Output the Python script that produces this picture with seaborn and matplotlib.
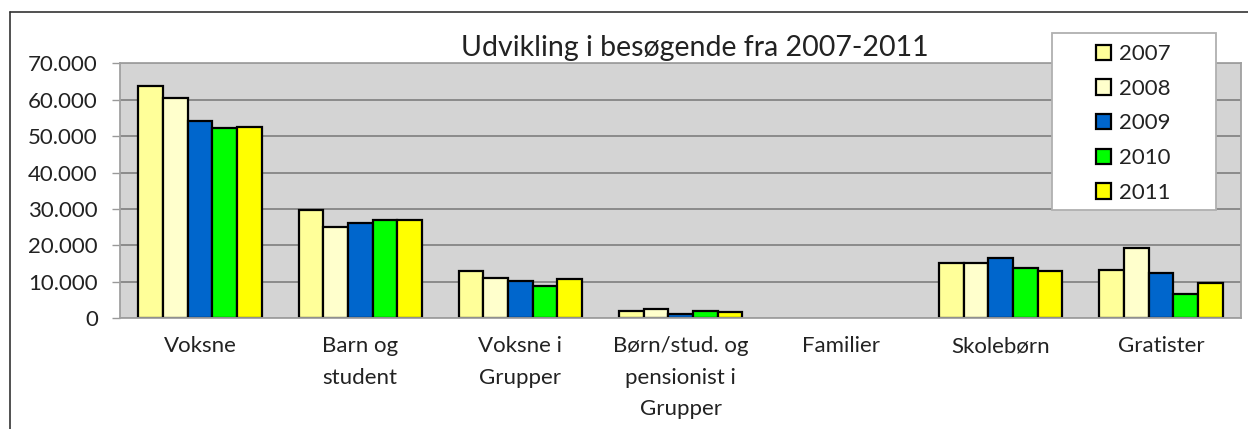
import numpy as np
import pandas as pd
import matplotlib.pyplot as plt
import seaborn as sns
from matplotlib.lines import Line2D
from matplotlib.patches import Rectangle
from matplotlib.ticker import FuncFormatter, FixedLocator

categories = ["Voksne", "Barn og\nstudent", "Voksne i\nGrupper",
              "Børn/stud. og\npensionist i\nGrupper", "Familier",
              "Skolebørn", "Gratister"]
years = ["2007", "2008", "2009", "2010", "2011"]

v2007 = [63700, 29700, 13000, 1800, 0, 15000, 13200]
v2008 = [60400, 24900, 11100, 2500, 0, 15000, 19300]
v2009 = [54300, 26000, 10200, 1200, 0, 16600, 12500]
v2010 = [52200, 27000, 8800, 1800, 0, 13700, 6600]
v2011 = [52500, 27000, 10600, 1700, 0, 13000, 9500]

colors = ["#FFFF99", "#FFFFCC", "#0066CC", "#00FF00", "#FFFF00"]

rows = []
for year, vals in zip(years, [v2007, v2008, v2009, v2010, v2011]):
    for cat, v in zip(categories, vals):
        rows.append({"kategori": cat, "år": year, "besøgende": v})
df = pd.DataFrame(rows)

sns.set_style("white")
plt.rcParams["font.family"] = ["Lato", "DejaVu Sans"]

fig = plt.figure(figsize=(12.48, 4.29), dpi=100)
ax = fig.add_axes([0.0962, 0.2587, 0.8982, 0.5933])
ax.set_facecolor("#D4D4D4")

sns.barplot(
    data=df, x="kategori", y="besøgende", hue="år",
    order=categories, hue_order=years,
    palette=colors, saturation=1, width=0.77,
    edgecolor="black", linewidth=1.6,
    ax=ax
)
# empty bars (Familier) leave no outline
for p in ax.patches:
    if p.get_height() == 0:
        p.set_linewidth(0)

ax.set_ylim(0, 70000)
ax.set_xlim(-0.5, len(categories) - 0.5)
ax.set_yticks(np.arange(0, 70001, 10000))
ax.yaxis.set_major_formatter(FuncFormatter(lambda v, p: f"{int(v):,}".replace(",", ".")))
ax.yaxis.grid(True, color="#858585", linewidth=1.3)
ax.set_axisbelow(True)

# category labels centred, tick marks between categories
ax.tick_params(axis="x", which="major", length=0, labelsize=16, pad=13, colors="#222222")
ax.xaxis.set_minor_locator(FixedLocator(np.arange(-0.5, len(categories), 1)))
ax.tick_params(axis="x", which="minor", length=7, width=1, color="#999999", direction="out")
ax.tick_params(axis="y", length=6, width=1, color="#999999", labelsize=16, pad=10,
               colors="#222222", left=True)
for lbl in ax.get_xticklabels():
    lbl.set_verticalalignment("top")
    lbl.set_linespacing(1.72)

for side in ["top", "right", "left", "bottom"]:
    ax.spines[side].set_color("#A0A0A0")
    ax.spines[side].set_linewidth(1.3)

ax.set_xlabel("")
ax.set_ylabel("")

fig.text(695 / 1248, 1 - 48 / 429, "Udvikling i besøgende fra 2007-2011", ha="center", va="center",
         fontsize=20.5, color="#222222")

# legend box
ax.add_patch(Rectangle((1052 / 1248, 1 - 210 / 429), 164 / 1248, 177 / 429,
                       transform=fig.transFigure, facecolor="white", clip_on=False,
                       edgecolor="#B0B0B0", linewidth=1.3, zorder=5))
leg = ax.legend(loc="upper left", bbox_to_anchor=(1096 / 1248, 1 - 44 / 429),
                bbox_transform=fig.transFigure, frameon=False,
                fontsize=16, handlelength=0.68, handleheight=0.68,
                handletextpad=0.35, labelspacing=0.66, borderpad=0,
                borderaxespad=0)
leg.set_title(None)
leg.set_zorder(6)
for h in leg.legend_handles:
    h.set_linewidth(1.6)
for t in leg.get_texts():
    t.set_color("#222222")

# outer chart border (left and top edges)
fig.add_artist(Line2D([10 / 1248, 10 / 1248], [0, 1 - 12 / 429], color="#333333", linewidth=1.2,
                      transform=fig.transFigure))
fig.add_artist(Line2D([10 / 1248, 1], [1 - 12 / 429, 1 - 12 / 429], color="#333333", linewidth=1.2,
                      transform=fig.transFigure))

plt.savefig("out.png", dpi=100)
